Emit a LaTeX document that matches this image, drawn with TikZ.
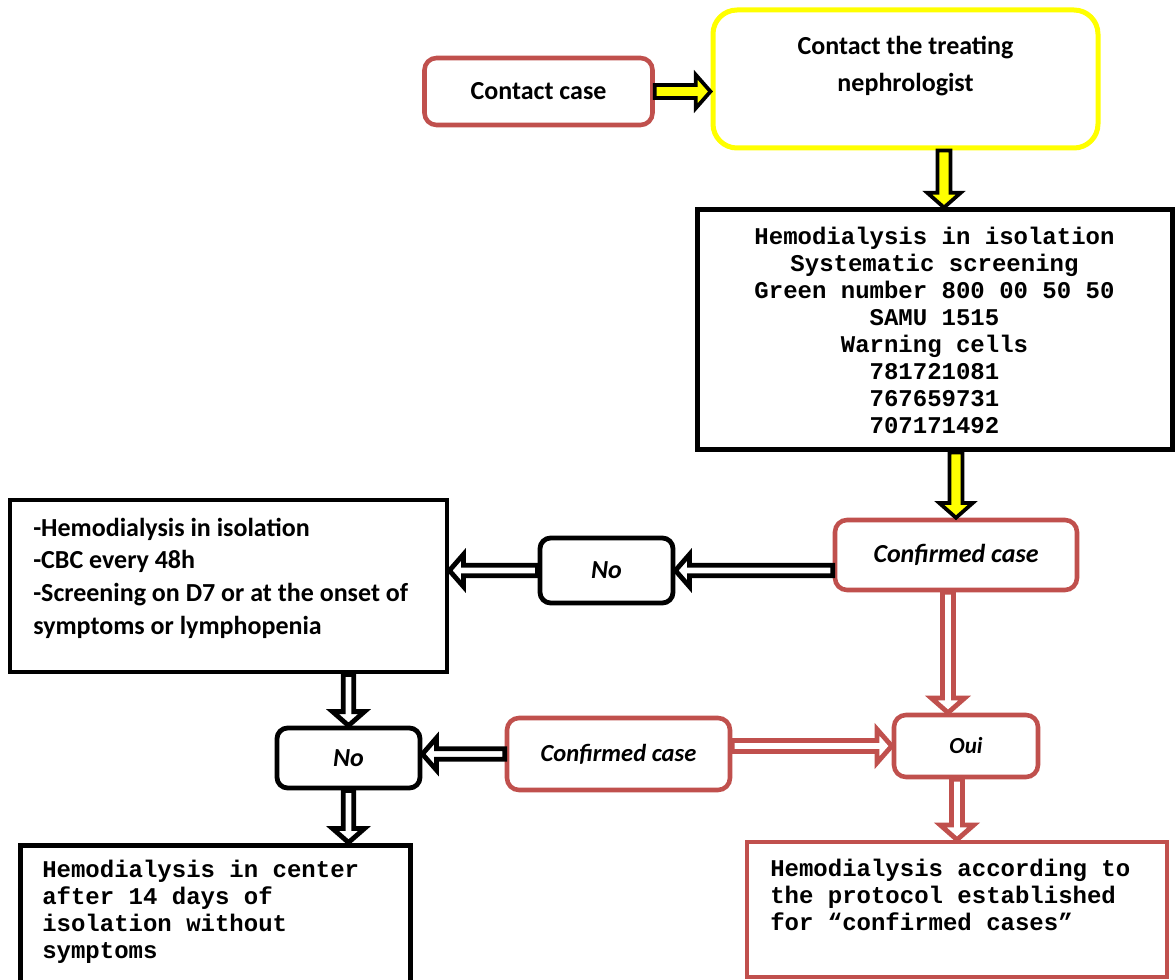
\documentclass[tikz,border=0pt]{standalone}
\usepackage{fontspec}
\setmainfont{Carlito}
\newfontfamily\monob{Liberation Mono}[BoldFont={Liberation Mono Bold}]
\usetikzlibrary{calc}
\definecolor{bred}{HTML}{C0504D}
\definecolor{byel}{HTML}{FFFF00}
\newlength\barrS \newlength\barrH \newlength\barrL
\newcommand\bx[2]{\x1+(#1)*\n2-(#2)*\n3}
\newcommand\by[2]{\y1+(#1)*\n3+(#2)*\n2}
\newcommand\barrow[3][]{%
  \draw[#1] let \p1=(#2), \p2=(#3), \n1={veclen(\x2-\x1,\y2-\y1)},
      \n2={(\x2-\x1)/\n1}, \n3={(\y2-\y1)/\n1} in
    ({\bx{0}{-\barrS}},{\by{0}{-\barrS}})
    -- ({\bx{\n1-\barrL}{-\barrS}},{\by{\n1-\barrL}{-\barrS}})
    -- ({\bx{\n1-\barrL}{-\barrH}},{\by{\n1-\barrL}{-\barrH}})
    -- ({\bx{\n1}{0}},{\by{\n1}{0}})
    -- ({\bx{\n1-\barrL}{\barrH}},{\by{\n1-\barrL}{\barrH}})
    -- ({\bx{\n1-\barrL}{\barrS}},{\by{\n1-\barrL}{\barrS}})
    -- ({\bx{0}{\barrS}},{\by{0}{\barrS}}) -- cycle;}
\tikzset{
  arrshaft/.code={\setlength\barrS{#1}},
  arrhead/.code={\setlength\barrH{#1}},
  arrlen/.code={\setlength\barrL{#1}},
  blkarr/.style={draw=black, fill=white, line width=3.6pt, miter limit=10,
    arrshaft=3.9pt, arrhead=12pt, arrlen=10.5pt},
  ylwarr/.style={draw=black, fill=byel, line width=2.8pt, miter limit=10,
    arrshaft=4.8pt, arrhead=12.5pt, arrlen=11pt},
  redarr/.style={draw=bred, fill=white, line width=3.6pt, miter limit=10,
    arrshaft=4.1pt, arrhead=12.5pt, arrlen=11pt},
  boxbase/.style={fill=white, inner sep=0pt, align=center},
  redround/.style={boxbase, draw=bred, line width=3.4pt, rounded corners=9pt},
  blackround/.style={boxbase, draw=black, line width=3.6pt, rounded corners=8pt},
  blackrect/.style={boxbase, draw=black, line width=3.75pt},
  redrect/.style={boxbase, draw=bred, line width=3.4pt},
  sansb/.style={font=\fontsize{19.5}{24.5}\selectfont\bfseries},
  sansbi/.style={font=\fontsize{19.5}{24.5}\selectfont\bfseries\itshape},
  monotext/.style={font=\monob\fontsize{18}{20.25}\selectfont\bfseries, inner sep=0pt},
}
\begin{document}
\begin{tikzpicture}[x=0.75pt,y=-0.75pt]
\useasboundingbox (0,0) rectangle (1175,980);
% nodes
\node[redround, sansb, minimum width=171pt, minimum height=50.25pt] (contact) at (538.5,91.5) {Contact case};
\node[boxbase, draw=byel, line width=3.75pt, rounded corners=18pt, minimum width=288.75pt, minimum height=103.5pt] (neph) at (905.5,79) {};
\node[sansb, align=center, inner sep=0pt, font=\fontsize{19.5}{27.75}\selectfont\bfseries] (nephtxt) at (905.5,66.5) {Contact the treating\\nephrologist};
\node[blackrect, monotext, minimum width=356.25pt, minimum height=180pt] (hemo) at (934.5,330)
  {Hemodialysis in isolation\\Systematic screening\\Green number 800 00 50 50\\SAMU 1515\\Warning cells\\781721081\\767659731\\707171492};
\node[redround, sansbi, minimum width=181.5pt, minimum height=52.5pt] (conf1) at (956,555) {Confirmed case};
\node[blackround, sansbi, minimum width=99.75pt, minimum height=48.75pt] (no1) at (606.5,570.5) {No};
\node[blackrect, line width=3.6pt, minimum width=327.75pt, minimum height=129pt] (left) at (228.5,586) {};
\node[sansb, align=left, inner sep=0pt, anchor=west] (lefttxt) at (33,578)
  {-Hemodialysis in isolation\\-CBC every 48h\\-Screening on D7 or at the onset of\\symptoms or lymphopenia};
\node[blackround, sansbi, minimum width=107.25pt, minimum height=45pt] (no2) at (348.5,758) {No};
\node[redround, minimum width=167.25pt, minimum height=54pt, font=\fontsize{18.4}{22}\selectfont\bfseries\itshape] (conf2) at (618.5,754) {Confirmed case};
\node[redround, minimum width=108pt, minimum height=46.5pt, font=\fontsize{17.25}{21}\selectfont\bfseries\itshape] (oui) at (966,746) {Oui};
\node[redrect, minimum width=315pt, minimum height=101.25pt] (bred) at (957,909.5) {};
\node[monotext, align=left, anchor=west] (bredtxt) at (770,895)
  {Hemodialysis according to\\the protocol established\\for “confirmed cases”};
\node[blackrect, minimum width=292.5pt, minimum height=108.75pt] (bl) at (215,917.5) {};
\node[monotext, align=left, anchor=west] (bltxt) at (42,912)
  {Hemodialysis in center\\after 14 days of\\isolation without\\symptoms};
% connectors
\coordinate (a2s) at ($(neph.south)+(38.5,0)$);
\coordinate (a9s) at ($(conf1.south)+(-8,0)$);
\barrow[ylwarr]{contact.east}{contact.east -| neph.west}
\barrow[ylwarr]{a2s}{a2s |- hemo.north}
\barrow[ylwarr]{hemo.south -| conf1.north}{conf1.north}
\barrow[blkarr]{conf1.west |- no1.east}{no1.east}
\barrow[blkarr]{no1.west}{no1.west -| left.east}
\barrow[blkarr]{left.south -| no2.north}{no2.north}
\barrow[blkarr]{conf2.west}{conf2.west -| no2.east}
\barrow[redarr]{conf2.east |- oui.west}{oui.west}
\barrow[redarr]{a9s}{a9s |- oui.north}
\barrow[redarr]{oui.south -| bred.north}{bred.north}
\barrow[blkarr]{no2.south}{no2.south |- bl.north}
\end{tikzpicture}
\end{document}
